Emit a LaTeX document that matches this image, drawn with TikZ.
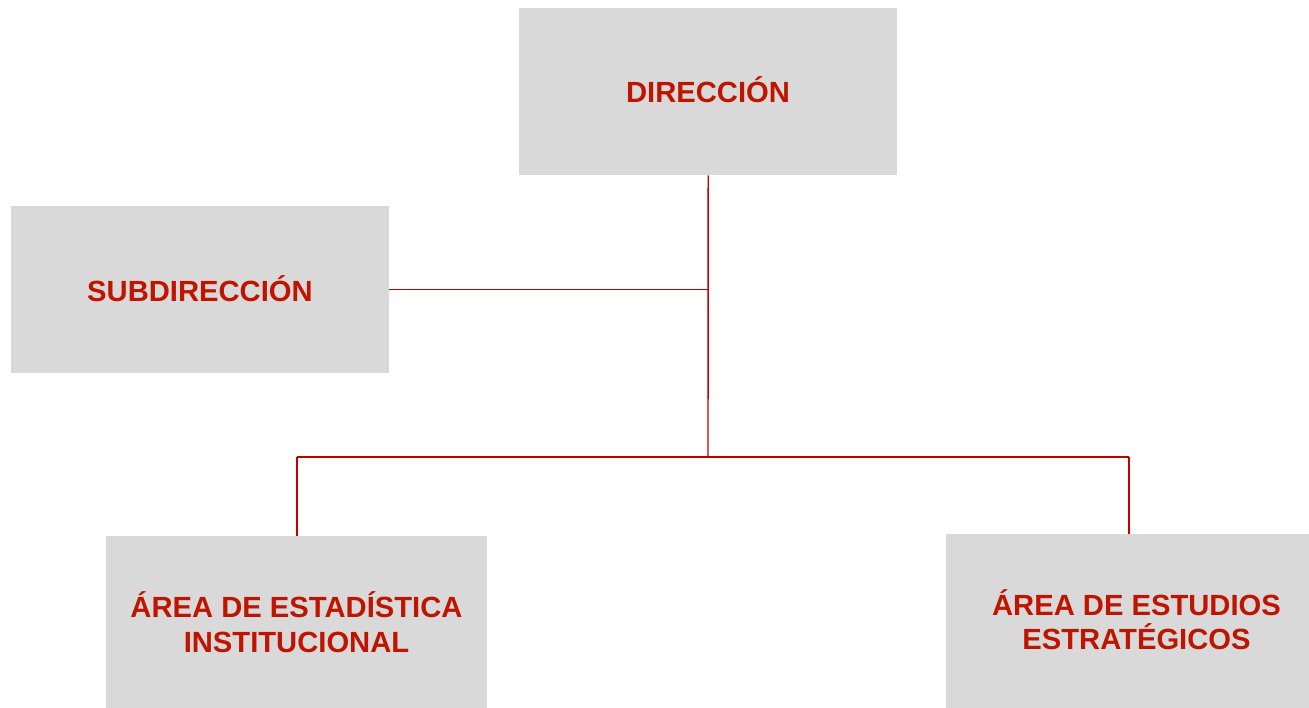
\documentclass[tikz,border=0pt]{standalone}
\usepackage{fontspec}
\setmainfont{Liberation Sans}
\definecolor{boxgray}{RGB}{217,217,217}
\definecolor{txtred}{RGB}{190,20,0}
\definecolor{linered}{RGB}{192,0,0}
\begin{document}
\begin{tikzpicture}[x=1pt,y=-1pt,
  orgbox/.style={fill=boxgray,draw=none,inner sep=0pt,anchor=north west},
  lbl/.style={text=txtred,font=\bfseries\fontsize{29.2}{35}\selectfont,inner sep=0pt,anchor=base},
  conn/.style={draw=linered,line width=1.4pt}]
\useasboundingbox (0,0) rectangle (1309,707);
\clip (0,0) rectangle (1309,707);
\node[orgbox,minimum width=378pt,minimum height=167pt] (dir) at (519,8) {};
\node[orgbox,minimum width=378pt,minimum height=167pt] (sub) at (11,206) {};
\node[orgbox,minimum width=381pt,minimum height=180pt] (est) at (106,536) {};
\node[orgbox,minimum width=366pt,minimum height=180pt] (estu) at (946,534) {};
\node[lbl] (dirl) at (708,102) {DIRECCIÓN};
\node[lbl] (subl) at (200,301) {SUBDIRECCIÓN};
\node[lbl] (estl1) at (296.5,617) {ÁREA DE ESTADÍSTICA};
\node[lbl] (estl2) at (296.5,652) {INSTITUCIONAL};
\node[lbl] (estul1) at (1136.5,615) {ÁREA DE ESTUDIOS};
\node[lbl] (estul2) at (1136.5,649) {ESTRATÉGICOS};
\coordinate (jn) at (708,457);
\coordinate (jl) at (297,457);
\coordinate (jr) at (1129,457);
\draw[conn] (dir.south) -- (jn);
\draw[conn] (sub.east) -- (sub.east -| dir.south);
\draw[conn] (jl) -- (jr);
\draw[conn] (jl) -- (jl |- est.north);
\draw[conn] (jr) -- (jr |- estu.north);
\end{tikzpicture}
\end{document}
